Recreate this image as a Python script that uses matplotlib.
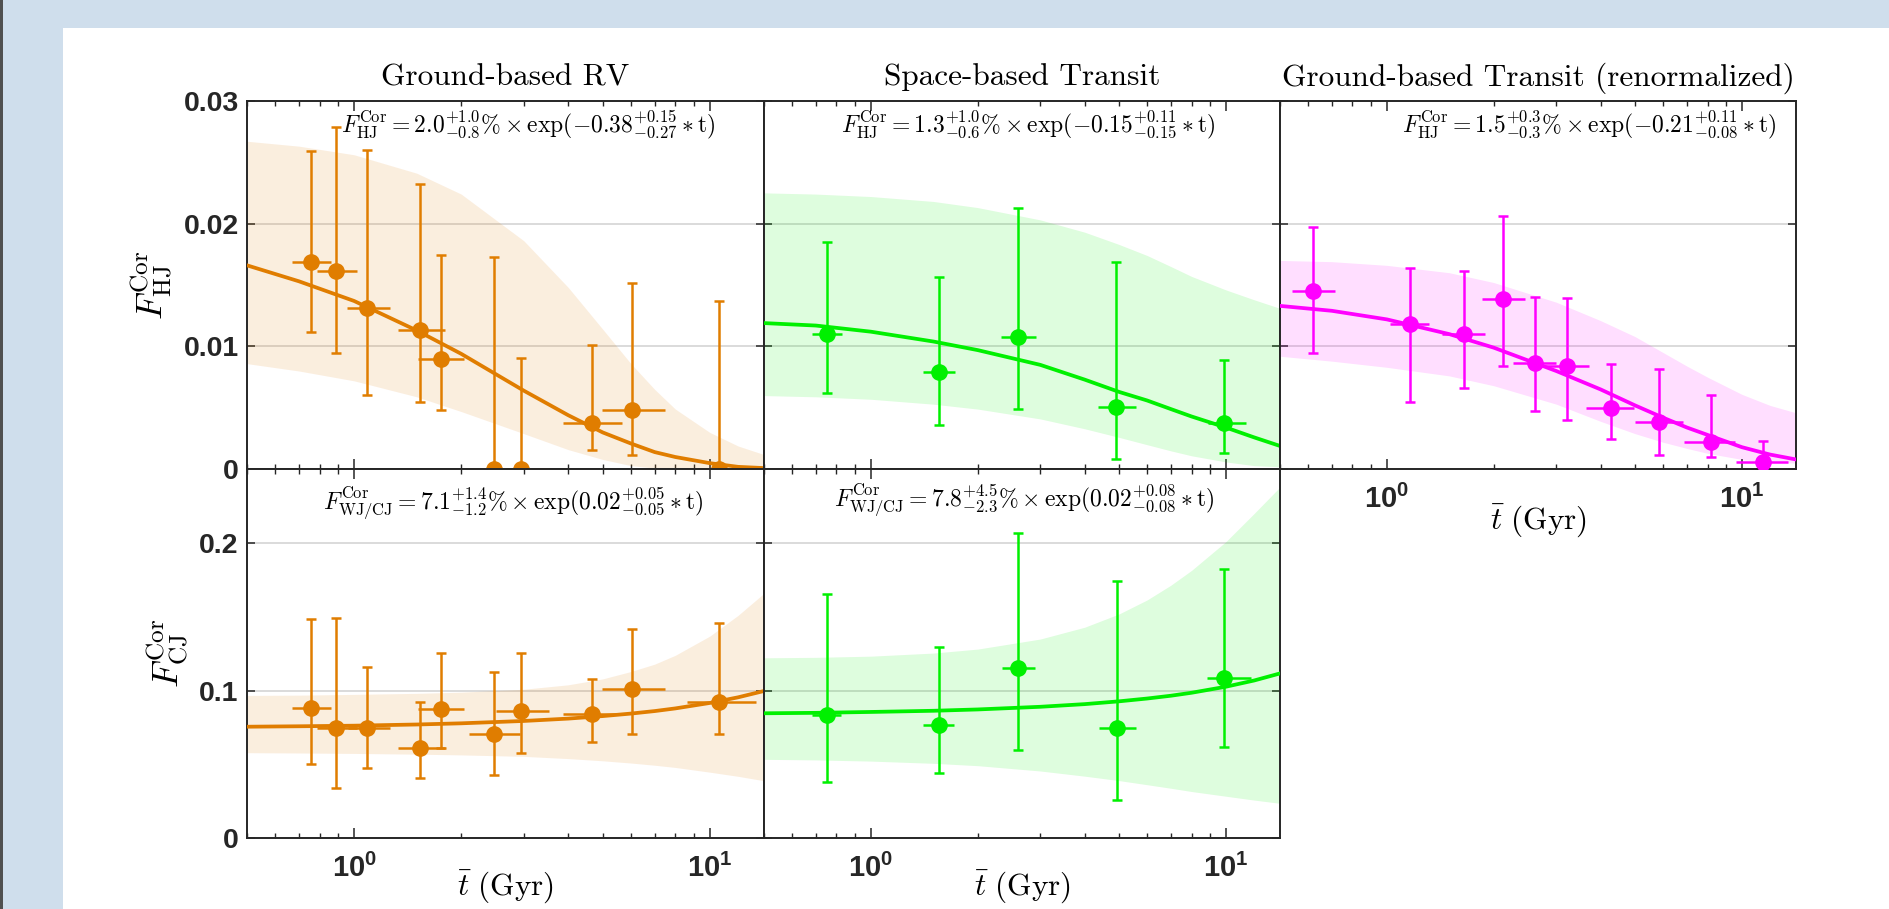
import numpy as np
import matplotlib
matplotlib.use("Agg")
import matplotlib.pyplot as plt
from matplotlib.patches import Rectangle
from matplotlib.ticker import NullFormatter

plt.rcParams['font.family'] = ['Liberation Sans', 'DejaVu Sans']
plt.rcParams['mathtext.fontset'] = 'custom'
plt.rcParams['mathtext.rm'] = 'Liberation Sans:bold'
plt.rcParams['mathtext.bf'] = 'Liberation Sans:bold'

ORANGE = '#E07D00'
GREEN = '#00F000'
MAGENTA = '#FF00FF'
DARK = '#262626'

# common age grid for fitted curves and 1-sigma bands
t_grid = [0.5, 0.7, 1, 1.5, 2, 3, 4, 5, 6, 7, 8, 10, 12, 14.2]

# ---- Ground-based RV, hot Jupiters
rv_hj_t = [0.758, 0.888, 1.09, 1.537, 1.75, 2.466, 2.95, 4.65, 6.05, 10.6]
rv_hj_tlo = [0.667, 0.789, 0.956, 1.33, 1.51, 2.107, 2.46, 3.86, 4.99, 8.65]
rv_hj_thi = [0.862, 1.021, 1.258, 1.80, 2.04, 2.886, 3.54, 5.66, 7.47, 13.4]
rv_hj_f = [0.0169, 0.0161, 0.01315, 0.01134, 0.00895, 0.0, 0.0, 0.0038, 0.00483, 0.0]
rv_hj_flo = [0.01115, 0.00949, 0.00602, 0.00548, 0.00483, 0.0, 0.0, 0.00157, 0.00116, 0.0]
rv_hj_fhi = [0.0259, 0.0279, 0.026, 0.02325, 0.01744, 0.01728, 0.00909, 0.01012, 0.01514, 0.01373]
rv_hj_fit = [0.0166, 0.0153, 0.0137, 0.0113, 0.0094, 0.0064, 0.0044, 0.0030, 0.0021, 0.0014, 0.0010, 0.0005, 0.0002, 0.0001]
rv_hj_up = [0.0267, 0.0263, 0.0256, 0.0241, 0.0224, 0.0186, 0.0148, 0.0114, 0.0086, 0.0065, 0.0049, 0.0030, 0.0019, 0.0012]
rv_hj_dn = [0.0086, 0.0080, 0.0072, 0.0059, 0.0047, 0.0029, 0.0016, 0.0008, 0.0003, 0.0001, 0.0, 0.0, 0.0, 0.0]

# ---- Space-based transit, hot Jupiters
st_hj_t = [0.751, 1.554, 2.588, 4.914, 9.86]
st_hj_tlo = [0.682, 1.402, 2.326, 4.365, 8.92]
st_hj_thi = [0.828, 1.72, 2.914, 5.59, 11.42]
st_hj_f = [0.01101, 0.00792, 0.01079, 0.0051, 0.0038]
st_hj_flo = [0.00624, 0.0036, 0.00488, 0.00084, 0.00135]
st_hj_fhi = [0.01853, 0.01568, 0.02129, 0.01684, 0.0089]
st_hj_fit = [0.0119, 0.0117, 0.0112, 0.0104, 0.0097, 0.0085, 0.0073, 0.0063, 0.0056, 0.0049, 0.0043, 0.0034, 0.0026, 0.0019]
st_hj_up = [0.0225, 0.0224, 0.0222, 0.0218, 0.0213, 0.0203, 0.0193, 0.0183, 0.0174, 0.0165, 0.0157, 0.0146, 0.0138, 0.0131]
st_hj_dn = [0.0060, 0.0059, 0.0057, 0.0053, 0.0049, 0.0041, 0.0033, 0.0026, 0.0020, 0.0015, 0.0011, 0.0006, 0.0003, 0.0002]

# ---- Ground-based transit (renormalized), hot Jupiters
gt_hj_t = [0.621, 1.164, 1.644, 2.125, 2.607, 3.208, 4.286, 5.855, 8.18, 11.43]
gt_hj_tlo = [0.539, 1.018, 1.432, 1.849, 2.26, 2.776, 3.627, 5.01, 6.88, 9.62]
gt_hj_thi = [0.716, 1.315, 1.892, 2.455, 3.0, 3.707, 4.955, 6.84, 9.57, 13.5]
gt_hj_f = [0.01454, 0.0118, 0.01099, 0.01389, 0.00863, 0.00841, 0.00496, 0.00388, 0.00225, 0.00062]
gt_hj_flo = [0.00949, 0.0055, 0.00659, 0.00843, 0.00474, 0.00401, 0.00244, 0.00116, 0.00098, 0.0]
gt_hj_fhi = [0.01975, 0.01641, 0.01616, 0.02064, 0.01405, 0.01392, 0.00854, 0.00814, 0.00605, 0.0023]
gt_hj_fit = [0.0133, 0.0129, 0.0122, 0.0110, 0.0099, 0.0080, 0.0065, 0.0052, 0.0042, 0.0034, 0.0028, 0.0018, 0.0012, 0.0008]
gt_hj_up = [0.0170, 0.0169, 0.0166, 0.0160, 0.0152, 0.0136, 0.0121, 0.0108, 0.0095, 0.0084, 0.0075, 0.0061, 0.0052, 0.0046]
gt_hj_dn = [0.0092, 0.0088, 0.0083, 0.0076, 0.0068, 0.0053, 0.0039, 0.0029, 0.0022, 0.0017, 0.0013, 0.0008, 0.0006, 0.0005]

# ---- Ground-based RV, cold Jupiters
rv_cj_t = [0.758, 0.888, 1.09, 1.537, 1.75, 2.466, 2.95, 4.65, 6.05, 10.6]
rv_cj_tlo = [0.667, 0.789, 0.96, 1.33, 1.51, 2.107, 2.512, 3.86, 4.99, 8.65]
rv_cj_thi = [0.862, 1.021, 1.258, 1.80, 2.04, 2.92, 3.54, 5.66, 7.47, 13.5]
rv_cj_f = [0.088, 0.0749, 0.0749, 0.0614, 0.0874, 0.0704, 0.0864, 0.084, 0.1011, 0.0921]
rv_cj_flo = [0.0503, 0.0343, 0.0478, 0.0406, 0.0609, 0.0429, 0.0576, 0.0654, 0.0706, 0.0704]
rv_cj_fhi = [0.1485, 0.149, 0.1158, 0.0921, 0.1253, 0.1129, 0.1257, 0.1079, 0.1415, 0.146]
rv_cj_fit = [0.0756, 0.0759, 0.0763, 0.0771, 0.0779, 0.0795, 0.0811, 0.0828, 0.0845, 0.0862, 0.0880, 0.0917, 0.0955, 0.0998]
rv_cj_up = [0.0968, 0.0970, 0.0975, 0.0982, 0.099, 0.101, 0.104, 0.108, 0.113, 0.118, 0.124, 0.137, 0.151, 0.166]
rv_cj_dn = [0.058, 0.0578, 0.0575, 0.057, 0.0565, 0.0555, 0.054, 0.0525, 0.051, 0.0495, 0.048, 0.0448, 0.042, 0.039]

# ---- Space-based transit, warm/cold Jupiters
st_cj_t = [0.751, 1.553, 2.59, 4.93, 9.87]
st_cj_tlo = [0.682, 1.405, 2.343, 4.39, 8.86]
st_cj_thi = [0.824, 1.717, 2.905, 5.59, 11.8]
st_cj_f = [0.0835, 0.0767, 0.1151, 0.0749, 0.1083]
st_cj_flo = [0.0379, 0.044, 0.0598, 0.0259, 0.0616]
st_cj_fhi = [0.1653, 0.1294, 0.207, 0.1743, 0.1822]
st_cj_fit = [0.0847, 0.0850, 0.0856, 0.0864, 0.0873, 0.0891, 0.0909, 0.0928, 0.0947, 0.0966, 0.0986, 0.1027, 0.1069, 0.1117]
st_cj_up = [0.1223, 0.1226, 0.1234, 0.1255, 0.1282, 0.1350, 0.1430, 0.1520, 0.1615, 0.1715, 0.1815, 0.2010, 0.2200, 0.2380]
st_cj_dn = [0.0535, 0.0531, 0.0523, 0.0508, 0.0492, 0.0456, 0.0421, 0.0391, 0.0363, 0.0339, 0.0317, 0.0285, 0.0259, 0.0237]

titles = ['Ground-based RV', 'Space-based Transit', 'Ground-based Transit (renormalized)']
eq_texts = [
    r'$F_{\rm HJ}^{\rm Cor} = 2.0_{-0.8}^{+1.0}\% \times \exp(-0.38_{-0.27}^{+0.15} \ast {\rm t})$',
    r'$F_{\rm HJ}^{\rm Cor} = 1.3_{-0.6}^{+1.0}\% \times \exp(-0.15_{-0.15}^{+0.11} \ast {\rm t})$',
    r'$F_{\rm HJ}^{\rm Cor} = 1.5_{-0.3}^{+0.3}\% \times \exp(-0.21_{-0.08}^{+0.11} \ast {\rm t})$',
    r'$F_{\rm WJ/CJ}^{\rm Cor} = 7.1_{-1.2}^{+1.4}\% \times \exp(0.02_{-0.05}^{+0.05} \ast {\rm t})$',
    r'$F_{\rm WJ/CJ}^{\rm Cor} = 7.8_{-2.3}^{+4.5}\% \times \exp(0.02_{-0.08}^{+0.08} \ast {\rm t})$',
]

fig = plt.figure(figsize=(18.9, 9.09), dpi=100, facecolor='#CFDEEC')
fig.patches.append(Rectangle((63 / 1890, 0), 1, 1 - 28 / 909, transform=fig.transFigure,
                             facecolor='white', edgecolor='none', zorder=-10))
fig.patches.append(Rectangle((0, 0), 3 / 1890, 1, transform=fig.transFigure,
                             facecolor='#505050', edgecolor='none', zorder=-10))

lefts = [247 / 1890, 764 / 1890, 1280 / 1890]
widths = [517 / 1890, 516 / 1890, 516 / 1890]
top_b, top_h = 1 - 469.3 / 909, 368.6 / 909
bot_b, bot_h = 1 - 838.3 / 909, 369 / 909


def style_axis(ax, ylim, yticks):
    ax.set_xscale('log')
    ax.set_xlim(0.5, 14.2)
    ax.set_ylim(*ylim)
    ax.set_xticks([1, 10])
    ax.xaxis.set_minor_formatter(NullFormatter())
    ax.set_yticks(yticks)
    ax.grid(axis='y', color='#d4d4d4', lw=1.2)
    ax.set_axisbelow(True)
    ax.tick_params(which='both', direction='in', top=True, right=True, color=DARK)
    ax.tick_params(which='major', length=6, width=1.1)
    ax.tick_params(which='minor', length=3.5, width=1.0)
    ax.tick_params(axis='x', which='major', length=7)
    for s in ax.spines.values():
        s.set_color(DARK)
        s.set_linewidth(1.4)
    ax.set_facecolor('white')


def draw_panel(ax, color, t, tlo, thi, f, flo, fhi, fit, up, dn):
    t = np.array(t); f = np.array(f)
    ax.fill_between(t_grid, dn, up, color=color, alpha=0.13, lw=0, zorder=1)
    ax.plot(t_grid, fit, color=color, lw=2.7, zorder=3)
    # horizontal age bins (no caps) and vertical errors (capped)
    ax.errorbar(t, f, xerr=[t - np.array(tlo), np.array(thi) - t],
                fmt='none', ecolor=color, lw=1.8, capsize=0, zorder=4)
    ax.errorbar(t, f, yerr=[f - np.array(flo), np.array(fhi) - f],
                fmt='o', color=color, ms=11, lw=1.8, capsize=3.5, capthick=1.8, zorder=4)


panels = [
    (0, 'top', ORANGE, (rv_hj_t, rv_hj_tlo, rv_hj_thi, rv_hj_f, rv_hj_flo, rv_hj_fhi, rv_hj_fit, rv_hj_up, rv_hj_dn)),
    (1, 'top', GREEN, (st_hj_t, st_hj_tlo, st_hj_thi, st_hj_f, st_hj_flo, st_hj_fhi, st_hj_fit, st_hj_up, st_hj_dn)),
    (2, 'top', MAGENTA, (gt_hj_t, gt_hj_tlo, gt_hj_thi, gt_hj_f, gt_hj_flo, gt_hj_fhi, gt_hj_fit, gt_hj_up, gt_hj_dn)),
    (0, 'bot', ORANGE, (rv_cj_t, rv_cj_tlo, rv_cj_thi, rv_cj_f, rv_cj_flo, rv_cj_fhi, rv_cj_fit, rv_cj_up, rv_cj_dn)),
    (1, 'bot', GREEN, (st_cj_t, st_cj_tlo, st_cj_thi, st_cj_f, st_cj_flo, st_cj_fhi, st_cj_fit, st_cj_up, st_cj_dn)),
]
eq_pos = [(0.5435, 0.935), (0.5116, 0.935), (0.599, 0.935), (0.514, 0.909), (0.505, 0.917)]

tick_font = dict(fontsize=20.5, fontweight='bold', color=DARK)
xtick_labels = [r'$\mathbf{10^{0}}$', r'$\mathbf{10^{1}}$']
xlab = r'$\bar{t}\ (\mathrm{Gyr})$'

for i, (col, row, color, data) in enumerate(panels):
    if row == 'top':
        ax = fig.add_axes([lefts[col], top_b, widths[col], top_h])
        style_axis(ax, (0, 0.03), [0, 0.01, 0.02, 0.03])
        ax.set_title(titles[col], fontfamily='cmr10', fontsize=22.5, pad=11, color='black')
    else:
        ax = fig.add_axes([lefts[col], bot_b, widths[col], bot_h])
        style_axis(ax, (0, 0.25), [0, 0.1, 0.2])
    draw_panel(ax, color, *data)
    ax.text(eq_pos[i][0], eq_pos[i][1], eq_texts[i], transform=ax.transAxes,
            ha='center', va='center', fontsize=17, math_fontfamily='cm', zorder=5)

    if col == 0:
        if row == 'top':
            ax.set_yticklabels(['0', '0.01', '0.02', '0.03'], **tick_font)
            ax.set_ylabel(r'$F_{\rm HJ}^{\rm Cor}$', fontsize=26, math_fontfamily='cm', labelpad=6)
        else:
            ax.set_yticklabels(['0', '0.1', '0.2'], **tick_font)
            ax.set_ylabel(r'$F_{\rm CJ}^{\rm Cor}$', fontsize=26, math_fontfamily='cm', labelpad=6)
        ax.tick_params(axis='y', pad=6)
    else:
        ax.set_yticklabels([])

    if row == 'bot' or col == 2:
        ax.set_xticklabels(xtick_labels, fontsize=21, color=DARK)
        ax.tick_params(axis='x', pad=11)
        ax.set_xlabel(xlab, fontsize=22.5, math_fontfamily='cm')
        ax.xaxis.set_label_coords(0.5, -0.13 if row == 'bot' else -0.14)
        ax.xaxis.label.set_va('center')
    else:
        ax.set_xticklabels([])

fig.savefig('out.png', dpi=100, facecolor=fig.get_facecolor())
